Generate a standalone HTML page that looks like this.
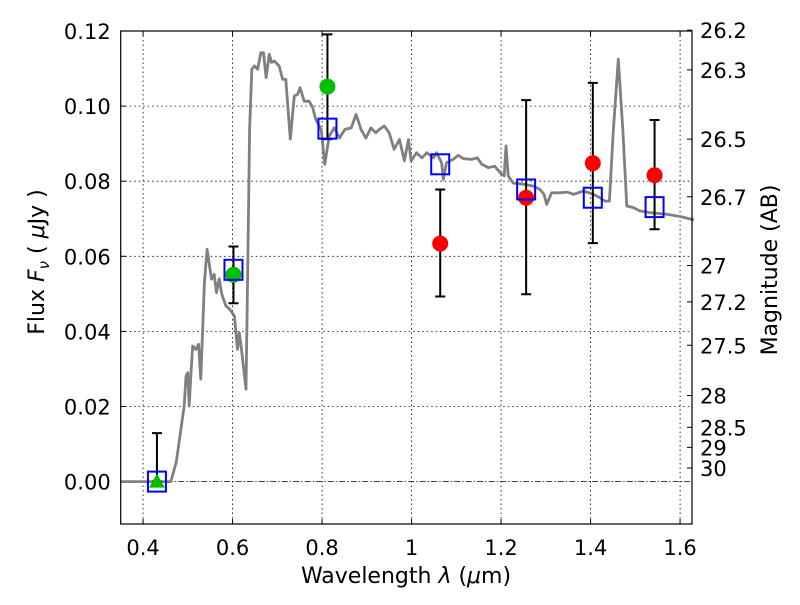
<!DOCTYPE html>
<html><head><meta charset="utf-8"><style>
body{margin:0;background:#fff;}
svg text{font-family:"DejaVu Sans","Liberation Sans",sans-serif;}
</style></head><body>
<svg id="chart" width="800" height="600" xmlns="http://www.w3.org/2000/svg"></svg>
<script>
const specLam=[0.35,0.462,0.474,0.492,0.496,0.500,0.503,0.507,0.511,0.518,0.524,0.529,0.537,0.543,0.548,0.553,0.559,0.564,0.570,0.576,0.585,0.593,0.604,0.611,0.615,0.620,0.630,0.634,0.638,0.643,0.649,0.656,0.663,0.669,0.675,0.682,0.687,0.693,0.704,0.712,0.719,0.729,0.738,0.745,0.751,0.760,0.771,0.779,0.786,0.798,0.806,0.816,0.827,0.839,0.851,0.865,0.876,0.887,0.898,0.909,0.920,0.928,0.939,0.950,0.961,0.973,0.984,0.993,0.999,1.011,1.023,1.034,1.049,1.056,1.067,1.071,1.078,1.093,1.104,1.116,1.134,1.147,1.157,1.172,1.186,1.198,1.207,1.211,1.216,1.227,1.250,1.272,1.287,1.296,1.302,1.313,1.332,1.347,1.362,1.384,1.406,1.421,1.432,1.442,1.451,1.462,1.472,1.481,1.495,1.510,1.533,1.570,1.600,1.631];
const specFlux=[0,0,0.0051,0.0201,0.0281,0.029,0.0201,0.029,0.0361,0.0352,0.0366,0.0273,0.053,0.0619,0.0579,0.0539,0.0552,0.0503,0.054,0.0499,0.0468,0.046,0.0441,0.0352,0.0396,0.0352,0.0246,0.0579,0.0938,0.1098,0.1107,0.1098,0.1142,0.1142,0.1076,0.1138,0.1116,0.112,0.1107,0.1071,0.1071,0.0912,0.1027,0.1031,0.1049,0.1013,0.1013,0.0996,0.0964,0.0938,0.0845,0.092,0.0942,0.0915,0.0938,0.0942,0.0978,0.0938,0.0915,0.0942,0.0929,0.0938,0.0947,0.0929,0.0885,0.0911,0.0854,0.0911,0.0854,0.0876,0.0862,0.0876,0.0862,0.0876,0.0849,0.0805,0.0849,0.0858,0.0869,0.086,0.0858,0.0862,0.0845,0.0836,0.084,0.0822,0.0814,0.0894,0.0814,0.0795,0.0792,0.0787,0.0778,0.0765,0.0738,0.0769,0.0769,0.0771,0.0765,0.0774,0.0765,0.0756,0.0747,0.0747,0.0938,0.1125,0.0938,0.0734,0.073,0.0721,0.0716,0.0712,0.0706,0.0697];
const photLam=[0.431,0.602,0.812,1.064,1.256,1.405,1.543];
const modelFlux=[0.0,0.0564,0.094,0.0845,0.0778,0.0756,0.0731];
const obsFlux=[0.0,0.0551,0.1052,0.0634,0.0756,0.0848,0.0816];
const errHi=[0.0129,0.0626,0.1191,0.0778,0.1016,0.1062,0.0963];
const errLo=[0.0,0.0475,0.0912,0.0493,0.0499,0.0635,0.0672];
const obsKind=['tri','green','green','red','red','red','red'];
const xTicks=[0.4,0.6,0.8,1.0,1.2,1.4,1.6];
const xTickLabels=['0.4','0.6','0.8','1','1.2','1.4','1.6'];
const yTicks=[0,0.02,0.04,0.06,0.08,0.10,0.12];
const yTickLabels=['0.00','0.02','0.04','0.06','0.08','0.10','0.12'];
const magTicks=[26.2,26.3,26.5,26.7,27,27.2,27.5,28,28.5,29,30];
const magLabels=['26.2','26.3','26.5','26.7','27','27.2','27.5','28','28.5','29','30'];

const L=120.7,R=692,T=31,B=524;
const xmin=0.35,xmax=0.35+(R-L)/447.5,ymax=0.12,ymin=0.12-(B-T)/3755;
const X=v=>L+(v-xmin)/(xmax-xmin)*(R-L);
const Y=v=>T+(ymax-v)/(ymax-ymin)*(B-T);
const svg=document.getElementById('chart');
const NS='http://www.w3.org/2000/svg';
function mk(tag,attrs,parent){const e=document.createElementNS(NS,tag);for(const k in attrs)e.setAttribute(k,attrs[k]);(parent||svg).appendChild(e);return e;}

xTicks.forEach((t,i)=>{
  const g=mk('line',{x1:X(t),x2:X(t),y1:T,y2:B,stroke:'#000','stroke-width':0.8,'stroke-dasharray':'1.5,3'});
  
  
  const tk=mk('line',{x1:X(t),x2:X(t),y1:B,y2:B-5,stroke:'#000','stroke-width':1});
  
  
  mk('line',{x1:X(t),x2:X(t),y1:T,y2:T+5,stroke:'#000','stroke-width':1});
  const tx=mk('text',{x:X(t),y:B+31,'font-size':21,'text-anchor':'middle'});
  tx.textContent=xTickLabels[i];
  
  
});
yTicks.forEach((t,i)=>{
  if(t>0){const g=mk('line',{x1:L,x2:R,y1:Y(t),y2:Y(t),stroke:'#000','stroke-width':0.8,'stroke-dasharray':'1.5,3'});
  
  }
  const tk=mk('line',{x1:L,x2:L+5,y1:Y(t),y2:Y(t),stroke:'#000','stroke-width':1});
  
  
  const tx=mk('text',{x:L-10,y:Y(t)+8,'font-size':21,'text-anchor':'end'});
  tx.textContent=yTickLabels[i];
  
  
});
const zl=mk('line',{x1:L,x2:R,y1:Y(0),y2:Y(0),stroke:'#000','stroke-width':0.8,'stroke-dasharray':'6,2,1.5,2'});



magTicks.forEach((m,i)=>{
  const f=Math.pow(10,(23.9-m)/2.5);
  const tk=mk('line',{x1:R,x2:R-5,y1:Y(f),y2:Y(f),stroke:'#000','stroke-width':1});
  
  
  const tx=mk('text',{x:R+8,y:Y(f)+8,'font-size':21});
  tx.textContent=magLabels[i];
  
  
});

const pts=specLam.map((l,i)=>X(l).toFixed(1)+','+Y(specFlux[i]).toFixed(1)).join(' ');
const sp=mk('polyline',{points:pts,fill:'none',stroke:'#808080','stroke-width':2.8,'stroke-linejoin':'round'});



photLam.forEach((l,i)=>{
  const x=X(l);
  const e=mk('path',{d:`M${x},${Y(errLo[i])}V${Y(errHi[i])}M${x-5},${Y(errHi[i])}h10M${x-5},${Y(errLo[i])}h10`,stroke:'#000','stroke-width':2,fill:'none'});
  
  
});
photLam.forEach((l,i)=>{
  const x=X(l),y=Y(obsFlux[i]);let m;
  if(obsKind[i]==='tri'){m=mk('polygon',{points:`${x},${y-8} ${x-8},${y+6} ${x+8},${y+6}`,fill:'#00bf00'});}
  else m=mk('circle',{cx:x,cy:y,r:8,fill:obsKind[i]==='red'?'#ff0000':'#00bf00'});
  
  
});
photLam.forEach((l,i)=>{
  const x=X(l),y=Y(modelFlux[i]);
  const s=mk('rect',{x:x-9,y:y-10,width:18,height:20,fill:'none',stroke:'#0000ff','stroke-width':2});
  
  
});
const fr=mk('rect',{x:L,y:T,width:R-L,height:B-T,fill:'none',stroke:'#000','stroke-width':1.2});


const xl=mk('text',{x:406,y:583,'font-size':22,'text-anchor':'middle','xml:space':'preserve'});
xl.setAttribute('xml:space','preserve');
xl.innerHTML='Wavelength  <tspan font-style="italic">λ</tspan> (<tspan font-style="italic">μ</tspan>m)';


const yl=mk('text',{x:0,y:0,'font-size':22,'text-anchor':'middle',transform:'translate(44,262) rotate(-90)'});
yl.setAttribute('xml:space','preserve');
yl.innerHTML='Flux  <tspan font-style="italic">F</tspan><tspan font-style="italic" font-size="15" dy="5">ν</tspan><tspan dy="-5">  (  </tspan><tspan font-style="italic">μ</tspan>Jy )';


const rl=mk('text',{x:0,y:0,'font-size':22,'text-anchor':'middle',transform:'translate(777,270) rotate(-90)'});
rl.textContent='Magnitude (AB)';


</script>
</body></html>
